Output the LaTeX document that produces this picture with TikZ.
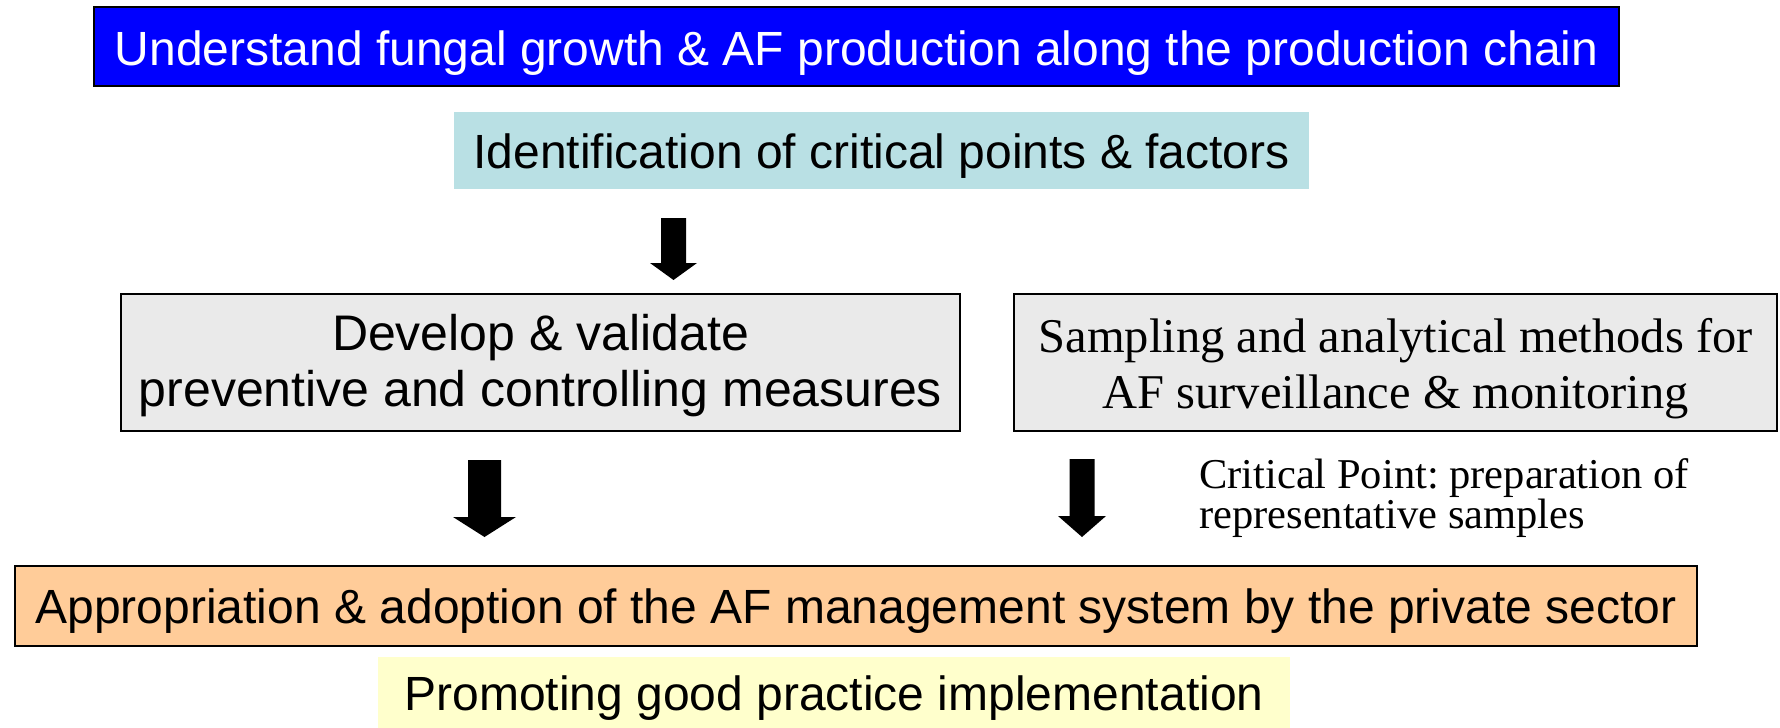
\documentclass[tikz,border=0pt]{standalone}
\usepackage{fontspec}
\setmainfont{Liberation Sans}
\newfontfamily\serifa{Liberation Serif}
\definecolor{topblue}{RGB}{0,0,255}
\definecolor{idblue}{RGB}{185,224,228}
\definecolor{boxgrey}{RGB}{234,234,234}
\definecolor{apporange}{RGB}{255,204,153}
\definecolor{promyellow}{RGB}{255,255,204}
\frenchspacing
\begin{document}
\begin{tikzpicture}[x=1pt,y=-1pt,
  box/.style={rectangle, inner sep=0pt, draw=black, line width=2pt, align=center},
  plainbox/.style={rectangle, inner sep=0pt, align=center},
  blockarrow/.style={fill=black}]
\useasboundingbox[fill=white] (0,0) rectangle (1780,728);
% boxes
\node[box, fill=topblue, text=white, minimum width=1525pt, minimum height=79pt,
      font=\fontsize{48}{56}\selectfont, text height=37pt, text depth=0pt]
      (understand) at (856.5,46.5) {Understand fungal growth \& AF production along the production chain};
\node[plainbox, fill=idblue, minimum width=855pt, minimum height=77pt,
      font=\fontsize{48}{54}\selectfont, text height=35pt, text depth=0pt]
      (identify) at (881.5,150.5) {Identification of critical points \& factors};
\node[box, fill=boxgrey, minimum width=839pt, minimum height=137pt,
      font=\fontsize{50}{56}\selectfont]
      (develop) at (540.5,362.5) {\rule{0pt}{42pt}Develop \& validate\\preventive and controlling measures};
\node[box, fill=boxgrey, minimum width=763pt, minimum height=137pt,
      font=\serifa\fontsize{48.5}{56}\selectfont]
      (sampling) at (1395.5,362.5) {\rule{0pt}{46pt}Sampling and analytical methods for\\AF surveillance \& monitoring};
\node[box, fill=apporange, minimum width=1682pt, minimum height=80pt,
      font=\fontsize{48}{56}\selectfont, text height=35pt, text depth=0pt]
      (appropriation) at (856,606) {Appropriation \& adoption of the AF management system by the private sector};
\node[plainbox, fill=promyellow, minimum width=912pt, minimum height=71pt,
      font=\fontsize{48}{56}\selectfont, text height=35pt, text depth=0pt]
      (promoting) at (834,692.5) {Promoting good practice implementation};
% note
\node[anchor=base west, inner sep=0pt, font=\serifa\fontsize{42.5}{40}\selectfont]
      (crit1) at (1199,488) {Critical Point: preparation of};
\node[anchor=base west, inner sep=0pt, font=\serifa\fontsize{42.5}{40}\selectfont]
      (crit2) at (1199,528) {representative samples};
% block arrows
\coordinate (arrA) at (673.5,218);
\coordinate (arrB) at (484.5,460);
\coordinate (arrC) at (1082,459);
\fill[blockarrow, shift={(arrA)}] (-12.5,0) -- (12.5,0) -- (12.5,45) -- (23.5,45) -- (0,62) -- (-23.5,45) -- (-12.5,45) -- cycle;
\fill[blockarrow, shift={(arrB)}] (-16.5,0) -- (16.5,0) -- (16.5,57) -- (31.5,57) -- (0,77) -- (-31.5,57) -- (-16.5,57) -- cycle;
\fill[blockarrow, shift={(arrC)}] (-12.5,0) -- (12.5,0) -- (12.5,57) -- (24,57) -- (0,78) -- (-24,57) -- (-12.5,57) -- cycle;
\end{tikzpicture}
\end{document}
